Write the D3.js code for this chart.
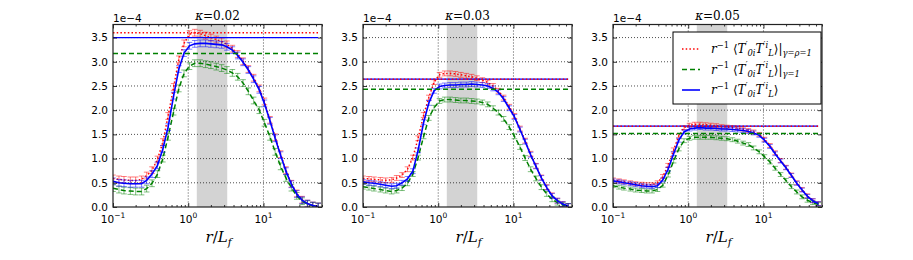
<!DOCTYPE html>
<html>
<head>
<meta charset="utf-8">
<script src="https://cdn.jsdelivr.net/npm/d3@7"></script>
<style>
  body { margin: 0; background: #fff; }
  svg text { fill: #000; }
</style>
</head>
<body>
<div id="host"></div>
<script>
// Layout constants
const width = 913;
const height = 260;
const PANEL_X = [113, 363, 613];
const PANEL_W = 209;
const TOP = 24.5;
const BOTTOM = 207;

// Data (values in units of 1e-4)
const kappas = ["0.02", "0.03", "0.05"];
const band = [1.3, 3.3];
const xTicks = [0.1, 1, 10];
const xTickExp = ["\u22121", "0", "1"];
const yTicks = [0.0, 0.5, 1.0, 1.5, 2.0, 2.5, 3.0, 3.5];

const rVals = [0.10, 0.12, 0.14, 0.17, 0.20, 0.24, 0.28, 0.33, 0.39, 0.46,
    0.54, 0.64, 0.75, 0.88, 1.04, 1.22, 1.44, 1.70, 2.0, 2.36,
    2.78, 3.27, 3.86, 4.55, 5.36, 6.3, 7.4, 8.8, 10.3, 12.2,
    14.3, 16.9, 19.9, 23.5, 27.7, 32.6, 38.4, 45.3, 53.4];

// kappa = 0.02
const red1 = [0.59, 0.57, 0.56, 0.55, 0.55, 0.57, 0.65, 0.76, 0.98, 1.34,
    1.88, 2.48, 3.05, 3.38, 3.57, 3.60, 3.58, 3.54, 3.50, 3.46,
    3.42, 3.36, 3.27, 3.16, 3.01, 2.85, 2.67, 2.45, 2.18, 1.80,
    1.44, 1.09, 0.76, 0.48, 0.28, 0.15, 0.07, 0.03, 0.01];
const green1 = [0.39, 0.36, 0.34, 0.33, 0.32, 0.32, 0.38, 0.49, 0.68, 1.00,
    1.45, 1.97, 2.45, 2.76, 2.91, 2.97, 2.97, 2.95, 2.93, 2.90,
    2.87, 2.83, 2.77, 2.69, 2.56, 2.39, 2.20, 2.00, 1.74, 1.45,
    1.14, 0.84, 0.60, 0.40, 0.23, 0.12, 0.06, 0.025, 0.01];
const blue1 = [0.53, 0.50, 0.49, 0.48, 0.48, 0.48, 0.55, 0.68, 0.86, 1.20,
    1.65, 2.30, 2.85, 3.18, 3.33, 3.37, 3.38, 3.38, 3.37, 3.36,
    3.35, 3.31, 3.24, 3.13, 2.99, 2.83, 2.64, 2.42, 2.14, 1.78,
    1.42, 1.07, 0.74, 0.47, 0.27, 0.14, 0.07, 0.03, 0.01];

// kappa = 0.03
const red2 = [0.59, 0.58, 0.57, 0.56, 0.55, 0.56, 0.60, 0.66, 0.78, 1.02,
    1.42, 1.90, 2.26, 2.58, 2.73, 2.76, 2.76, 2.75, 2.73, 2.71,
    2.69, 2.66, 2.62, 2.57, 2.50, 2.40, 2.26, 2.07, 1.88, 1.62,
    1.37, 1.10, 0.85, 0.61, 0.41, 0.24, 0.13, 0.06, 0.02];
const green2 = [0.42, 0.40, 0.38, 0.36, 0.34, 0.32, 0.34, 0.39, 0.49, 0.68,
    1.02, 1.46, 1.84, 2.05, 2.19, 2.22, 2.22, 2.21, 2.20, 2.20,
    2.19, 2.18, 2.16, 2.12, 2.04, 1.95, 1.82, 1.65, 1.46, 1.24,
    1.01, 0.78, 0.59, 0.41, 0.27, 0.16, 0.09, 0.04, 0.02];
const blue2 = [0.52, 0.50, 0.49, 0.47, 0.45, 0.43, 0.44, 0.50, 0.58, 0.74,
    1.17, 1.75, 2.15, 2.40, 2.49, 2.51, 2.52, 2.52, 2.53, 2.53,
    2.54, 2.53, 2.52, 2.50, 2.45, 2.37, 2.23, 2.04, 1.86, 1.60,
    1.35, 1.08, 0.84, 0.60, 0.40, 0.23, 0.13, 0.06, 0.02];

// kappa = 0.05
const red3 = [0.56, 0.54, 0.52, 0.50, 0.48, 0.47, 0.46, 0.46, 0.50, 0.63,
    0.86, 1.18, 1.47, 1.64, 1.69, 1.71, 1.71, 1.70, 1.69, 1.68,
    1.66, 1.65, 1.64, 1.63, 1.61, 1.58, 1.55, 1.50, 1.40, 1.27,
    1.12, 0.96, 0.82, 0.66, 0.50, 0.36, 0.23, 0.13, 0.07];
const green3 = [0.44, 0.41, 0.39, 0.37, 0.35, 0.34, 0.33, 0.33, 0.36, 0.45,
    0.66, 0.95, 1.20, 1.37, 1.42, 1.44, 1.44, 1.44, 1.44, 1.43,
    1.42, 1.41, 1.39, 1.36, 1.32, 1.29, 1.22, 1.14, 1.04, 0.93,
    0.80, 0.67, 0.55, 0.42, 0.31, 0.21, 0.14, 0.09, 0.05];
const blue3 = [0.54, 0.52, 0.50, 0.48, 0.46, 0.44, 0.43, 0.42, 0.44, 0.56,
    0.78, 1.10, 1.38, 1.55, 1.61, 1.63, 1.64, 1.63, 1.63, 1.62,
    1.61, 1.61, 1.60, 1.59, 1.58, 1.56, 1.53, 1.48, 1.38, 1.25,
    1.10, 0.95, 0.81, 0.65, 0.49, 0.35, 0.22, 0.13, 0.07];

// horizontal reference levels and typical error bar half-widths, per panel
const refRed = [3.60, 2.64, 1.67];
const refGreen = [3.17, 2.43, 1.52];
const refBlue = [3.50, 2.64, 1.67];
const errRed = [0.07, 0.05, 0.04];
const errGreen = [0.07, 0.05, 0.04];
const errBlue = [0.07, 0.05, 0.04];

const panels = [
    {red: red1, green: green1, blue: blue1},
    {red: red2, green: green2, blue: blue2},
    {red: red3, green: green3, blue: blue3}
];

const STYLE = {
    red: {color: "#ff0000", dash: "1.5,2.2", w: 1.5},
    green: {color: "#008000", dash: "5,3", w: 1.5},
    blue: {color: "#0000ff", dash: null, w: 1.6}
};

const SERIF = "'DejaVu Serif', 'Liberation Serif', serif";
const SANS = "'DejaVu Sans', sans-serif";

const svg = d3.select("#host").append("svg")
    .attr("width", width)
    .attr("height", height);

const x = d3.scaleLog().domain([0.1, 60]).range([0, PANEL_W]);
const y = d3.scaleLinear().domain([0, 3.77]).range([BOTTOM - TOP, 0]);
const ph = BOTTOM - TOP;

// minor ticks for the log axis
const minorTicks = [];
for (const dec of [0.1, 1, 10]) {
    for (let k = 2; k <= 9; k++) {
        if (dec * k <= 60) minorTicks.push(dec * k);
    }
}

/** Append rich text made of parts: {t, s: "sup"|"sub", it}. */
function rich(sel, parts, base) {
    let shift = 0;
    for (const p of parts) {
        const target = p.s === "sup" ? -base * 0.42 : (p.s === "sub" ? base * 0.28 : 0);
        sel.append("tspan")
            .attr("dy", target - shift)
            .style("font-size", (p.s ? base * 0.7 : base) + "px")
            .style("font-style", p.it ? "italic" : "normal")
            .text(p.t);
        shift = target;
    }
}

function drawPanel(i) {
    const g = svg.append("g").attr("transform", `translate(${PANEL_X[i]},${TOP})`);
    const clipId = "clip" + i;
    g.append("clipPath").attr("id", clipId)
        .append("rect").attr("width", PANEL_W).attr("height", ph);

    // shaded band
    g.append("rect")
        .attr("x", x(band[0]))
        .attr("width", x(band[1]) - x(band[0]))
        .attr("y", 0)
        .attr("height", ph)
        .attr("fill", "#d3d3d3");

    // grid
    g.selectAll(".gx").data(xTicks.slice(1)).join("line")
        .attr("x1", d => x(d)).attr("x2", d => x(d))
        .attr("y1", 0).attr("y2", ph)
        .attr("stroke", "#000").attr("stroke-width", 0.7)
        .attr("stroke-dasharray", "1,2");
    g.selectAll(".gy").data(yTicks.slice(1)).join("line")
        .attr("x1", 0).attr("x2", PANEL_W)
        .attr("y1", d => y(d)).attr("y2", d => y(d))
        .attr("stroke", "#000").attr("stroke-width", 0.7)
        .attr("stroke-dasharray", "1,2");

    const plot = g.append("g").attr("clip-path", `url(#${clipId})`);
    const refs = {red: refRed[i], green: refGreen[i], blue: refBlue[i]};
    const errs = {red: errRed[i], green: errGreen[i], blue: errBlue[i]};

    for (const key of ["red", "green", "blue"]) {
        const st = STYLE[key];
        const vals = panels[i][key];
        const pts = rVals.map((r, j) => ({r: r, v: vals[j]}));
        const e = errs[key];

        // error bars
        const eb = plot.append("g")
            .attr("stroke", st.color)
            .attr("stroke-opacity", 0.5)
            .attr("stroke-width", 1);
        eb.selectAll("line.v").data(pts).join("line")
            .attr("x1", d => x(d.r)).attr("x2", d => x(d.r))
            .attr("y1", d => y(d.v - e)).attr("y2", d => y(d.v + e));
        eb.selectAll("line.t").data(pts).join("line")
            .attr("x1", d => x(d.r) - 2.8).attr("x2", d => x(d.r) + 2.8)
            .attr("y1", d => y(d.v + e)).attr("y2", d => y(d.v + e));
        eb.selectAll("line.b").data(pts).join("line")
            .attr("class", "b")
            .attr("x1", d => x(d.r) - 2.8).attr("x2", d => x(d.r) + 2.8)
            .attr("y1", d => y(d.v - e)).attr("y2", d => y(d.v - e));

        // curve
        plot.append("path")
            .datum(pts)
            .attr("fill", "none")
            .attr("stroke", st.color)
            .attr("stroke-width", st.w)
            .attr("stroke-dasharray", st.dash)
            .attr("d", d3.line().x(d => x(d.r)).y(d => y(d.v)));
    }

    // horizontal reference lines (blue, green, then red dotted on top)
    for (const key of ["blue", "green", "red"]) {
        const st = STYLE[key];
        plot.append("line")
            .attr("x1", x(rVals[0])).attr("x2", x(rVals[rVals.length - 1]))
            .attr("y1", y(refs[key])).attr("y2", y(refs[key]))
            .attr("stroke", st.color)
            .attr("stroke-width", key === "blue" ? 1.2 : 1.5)
            .attr("stroke-dasharray", st.dash);
    }

    // axes with inward ticks
    g.append("g").attr("transform", `translate(0,${ph})`)
        .call(d3.axisBottom(x).tickValues(xTicks).tickSize(-4).tickFormat(""));
    g.append("g").attr("transform", `translate(0,${ph})`)
        .call(d3.axisBottom(x).tickValues(minorTicks).tickSize(-2).tickFormat(""));
    g.append("g").call(d3.axisTop(x).tickValues(xTicks).tickSize(-4).tickFormat(""));
    g.append("g").call(d3.axisTop(x).tickValues(minorTicks).tickSize(-2).tickFormat(""));
    const axL = g.append("g")
        .call(d3.axisLeft(y).tickValues(yTicks).tickSize(-4).tickPadding(5).tickFormat(d3.format(".1f")));
    g.append("g").attr("transform", `translate(${PANEL_W},0)`)
        .call(d3.axisRight(y).tickValues(yTicks).tickSize(-4).tickFormat(""));
    g.selectAll(".domain").attr("stroke", "none");
    g.selectAll(".tick line").attr("stroke", "#000").attr("stroke-width", 0.8);
    axL.selectAll("text").style("font-family", SANS).style("font-size", "10.5px");

    // x tick labels with superscripts
    xTicks.forEach((t, k) => {
        const tx = g.append("text")
            .attr("x", x(t))
            .attr("y", ph + 16)
            .attr("text-anchor", "middle")
            .style("font-family", SANS)
            .style("font-size", "10.5px");
        tx.append("tspan").text("10");
        tx.append("tspan").attr("dy", -5).style("font-size", "7.5px").text(xTickExp[k]);
    });

    // frame
    g.append("rect")
        .attr("width", PANEL_W).attr("height", ph)
        .attr("fill", "none")
        .attr("stroke", "#222")
        .attr("stroke-width", 1.2);

    // offset text and title
    g.append("text").attr("x", 0).attr("y", -3)
        .style("font-family", SANS).style("font-size", "10.5px")
        .text("1e\u22124");
    const title = g.append("text")
        .attr("x", PANEL_W / 2).attr("y", -5)
        .attr("text-anchor", "middle")
        .style("font-family", SERIF).style("font-size", "12px");
    title.append("tspan").style("font-style", "italic").text("\u03ba");
    title.append("tspan").text("=" + kappas[i]);

    // x label
    const xl = g.append("text")
        .attr("x", PANEL_W / 2 + 1).attr("y", ph + 35)
        .attr("text-anchor", "middle")
        .style("font-family", SERIF).style("font-size", "15px");
    rich(xl, [{t: "r", it: true}, {t: "/", it: false}, {t: "L", it: true}, {t: "f", it: true, s: "sub"}], 15);
}

for (let i = 0; i < 3; i++) drawPanel(i);

// Legend inside the third panel
const legendLabels = [
    [{t: "\u03b3=\u03c1=1", s: "sub", it: true}],
    [{t: "\u03b3=1", s: "sub", it: true}],
    []
];
const leg = svg.append("g").attr("transform", "translate(673,32)");
leg.append("rect")
    .attr("width", 148).attr("height", 72)
    .attr("fill", "#fff")
    .attr("stroke", "#000").attr("stroke-width", 1);
["red", "green", "blue"].forEach((key, k) => {
    const st = STYLE[key];
    const cy = 17 + k * 20.5;
    leg.append("line")
        .attr("x1", 9).attr("x2", 27)
        .attr("y1", cy).attr("y2", cy)
        .attr("stroke", st.color).attr("stroke-width", st.w)
        .attr("stroke-dasharray", st.dash);
    const t = leg.append("text")
        .attr("x", 38).attr("y", cy + 4)
        .style("font-family", SERIF).style("font-size", "12px");
    const parts = [
        {t: "r", it: true},
        {t: "\u22121", s: "sup"},
        {t: " \u27e8", it: false},
        {t: "T", it: true},
        {t: "\u2032", s: "sup"},
        {t: "0i", s: "sub", it: true},
        {t: "T", it: true},
        {t: "\u2032i", s: "sup", it: true},
        {t: "L", s: "sub", it: true},
        {t: "\u27e9", it: false}
    ];
    if (legendLabels[k].length) {
        parts.push({t: "|", it: false});
        parts.push(...legendLabels[k]);
    }
    rich(t, parts, 12);
});
</script>
</body>
</html>
